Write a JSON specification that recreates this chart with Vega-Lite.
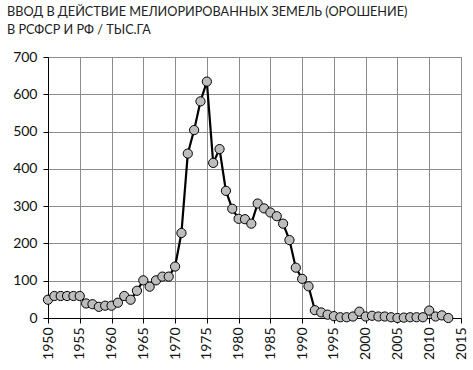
{
  "$schema": "https://vega.github.io/schema/vega-lite/v6.json",
  "width": 413,
  "height": 261,
  "autosize": {"type": "none"},
  "padding": {"left": 48, "top": 57, "right": 12, "bottom": 52},
  "background": "white",
  "title": {
    "text": ["ВВОД В ДЕЙСТВИЕ МЕЛИОРИРОВАННЫХ ЗЕМЕЛЬ (ОРОШЕНИЕ)", "В РСФСР И РФ / ТЫС.ГА"],
    "anchor": "start",
    "frame": "group",
    "dx": -41,
    "offset": 13,
    "font": "Lato",
    "fontSize": 12.7,
    "fontWeight": "normal",
    "color": "#222",
    "lineHeight": 18
  },
  "data": {
    "values": [
      {"year": 1950, "v": 49}, {"year": 1951, "v": 59}, {"year": 1952, "v": 59}, {"year": 1953, "v": 59},
      {"year": 1954, "v": 59}, {"year": 1955, "v": 59}, {"year": 1956, "v": 39}, {"year": 1957, "v": 37},
      {"year": 1958, "v": 30}, {"year": 1959, "v": 33}, {"year": 1960, "v": 33}, {"year": 1961, "v": 41},
      {"year": 1962, "v": 59}, {"year": 1963, "v": 49}, {"year": 1964, "v": 73}, {"year": 1965, "v": 101},
      {"year": 1966, "v": 84}, {"year": 1967, "v": 101}, {"year": 1968, "v": 111}, {"year": 1969, "v": 111},
      {"year": 1970, "v": 138}, {"year": 1971, "v": 228}, {"year": 1972, "v": 441}, {"year": 1973, "v": 504},
      {"year": 1974, "v": 581}, {"year": 1975, "v": 634}, {"year": 1976, "v": 416}, {"year": 1977, "v": 453},
      {"year": 1978, "v": 341}, {"year": 1979, "v": 293}, {"year": 1980, "v": 266}, {"year": 1981, "v": 265},
      {"year": 1982, "v": 253}, {"year": 1983, "v": 307}, {"year": 1984, "v": 294}, {"year": 1985, "v": 283},
      {"year": 1986, "v": 273}, {"year": 1987, "v": 253}, {"year": 1988, "v": 209}, {"year": 1989, "v": 135},
      {"year": 1990, "v": 105}, {"year": 1991, "v": 85}, {"year": 1992, "v": 21}, {"year": 1993, "v": 15},
      {"year": 1994, "v": 9}, {"year": 1995, "v": 5}, {"year": 1996, "v": 2}, {"year": 1997, "v": 2},
      {"year": 1998, "v": 4}, {"year": 1999, "v": 17}, {"year": 2000, "v": 4}, {"year": 2001, "v": 6},
      {"year": 2002, "v": 4}, {"year": 2003, "v": 4}, {"year": 2004, "v": 2}, {"year": 2005, "v": 0},
      {"year": 2006, "v": 1}, {"year": 2007, "v": 2}, {"year": 2008, "v": 2}, {"year": 2009, "v": 2},
      {"year": 2010, "v": 20}, {"year": 2011, "v": 4}, {"year": 2012, "v": 7}, {"year": 2013, "v": 0}
    ]
  },
  "encoding": {
    "x": {
      "field": "year", "type": "quantitative",
      "scale": {"domain": [1950, 2015], "nice": false, "zero": false},
      "axis": {
        "title": null, "values": [1950,1955,1960,1965,1970,1975,1980,1985,1990,1995,2000,2005,2010,2015],
        "format": "d", "labelAngle": -90, "labelAlign": "right", "labelBaseline": "middle",
        "labelFont": "Lato", "labelFontSize": 14, "labelColor": "#111", "labelPadding": 4,
        "grid": true, "gridColor": "#8c8c8c", "gridWidth": 1,
        "domainColor": "#000", "tickColor": "#000", "tickSize": 5, "labelOverlap": false
      }
    },
    "y": {
      "field": "v", "type": "quantitative",
      "scale": {"domain": [0, 700], "nice": false},
      "axis": {
        "title": null, "values": [0,100,200,300,400,500,600,700],
        "labelFont": "Lato", "labelFontSize": 14, "labelColor": "#111", "labelPadding": 6,
        "grid": true, "gridColor": "#8c8c8c", "gridWidth": 1,
        "domainColor": "#000", "tickColor": "#000", "tickSize": 5
      }
    }
  },
  "layer": [
    {"mark": {"type": "line", "color": "#000", "strokeWidth": 2.2}},
    {"mark": {"type": "point", "filled": true, "fill": "#bdbdbd", "stroke": "#000", "strokeWidth": 1, "size": 85, "opacity": 1}}
  ],
  "config": {"view": {"stroke": "#8c8c8c"}}
}
